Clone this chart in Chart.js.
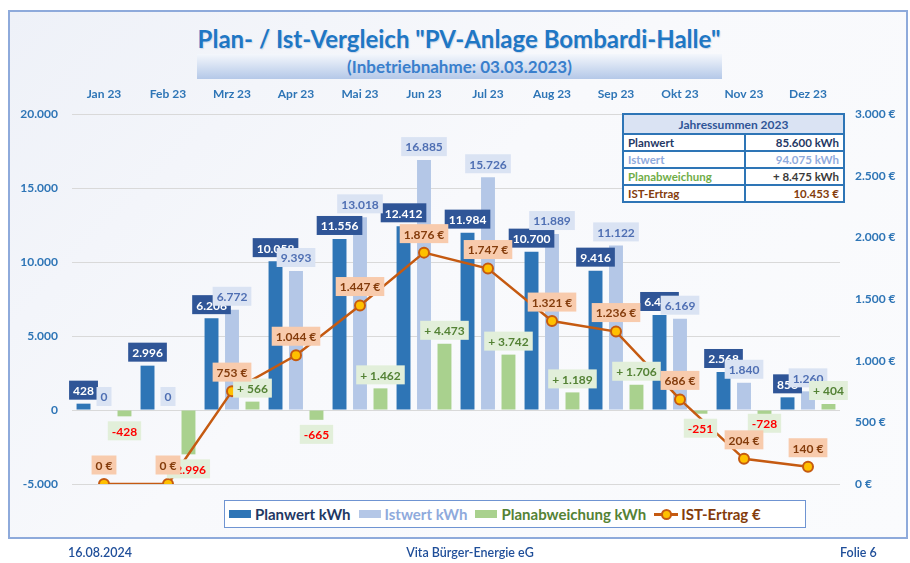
<!DOCTYPE html>
<html lang="de">
<head>
<meta charset="UTF-8">
<title>Plan- / Ist-Vergleich PV-Anlage Bombardi-Halle</title>
<script src="https://cdn.jsdelivr.net/npm/chart.js"></script>
<style>
  body { margin: 0; width: 910px; height: 563px; background: #fff; font-family: Lato, sans-serif; position: relative; overflow: hidden; }
  #frame { position: absolute; left: 8px; top: 10px; width: 896px; height: 525px; border: 2px solid #8eaadb; background: linear-gradient(135deg, #eef1f8 0%, #f8f9fc 45%, #fafbfd 100%); }
  #title { position: absolute; left: 0; width: 918px; top: 24px; text-align: center; font-weight: bold; font-size: 24px; color: #1f77c4; text-shadow: 1px 1px 1px #c9d6ea; }
  #subtitle { position: absolute; left: 197px; width: 525px; top: 54px; height: 25px; line-height: 25px; text-align: center; font-weight: bold; font-size: 17px; color: #3a7fcc; background: linear-gradient(#f4f7fc, #b4c8e8); }
  canvas { position: absolute; left: 0; top: 0; }
  #sum { position: absolute; left: 622px; top: 113px; width: 223px; border-collapse: collapse; font-size: 11.5px; font-weight: bold; background: #fff; }
  #sum td { border: 2px solid #2e75b6; height: 15px; padding: 0 4px; }
  #sum td.h { text-align: center; background: #dae3f3; color: #2f5597; height: 18px; font-size: 12px; }
  #sum td.v { text-align: right; }
  #legend { position: absolute; left: 224px; top: 500px; width: 580px; height: 26px; border: 1px solid #6f94d2; background: #fff; display: flex; align-items: center; font-size: 15px; font-weight: bold; white-space: nowrap; }
  .li { display: flex; align-items: center; margin-left: 4px; margin-right: 4px; }
  .mk { width: 22px; height: 8px; margin-right: 4px; }
  .ln { position: relative; width: 24px; height: 3px; background: #c55a11; margin-right: 3px; }
  .ln::after { content: ""; position: absolute; left: 7px; top: -4px; width: 7px; height: 7px; border-radius: 50%; background: #ffc000; border: 2px solid #c55a11; box-sizing: content-box; }
  .foot { position: absolute; top: 545px; font-size: 12.5px; font-weight: 600; color: #1f4e99; }
</style>
</head>
<body>
<div id="frame"></div>
<div id="title">Plan- / Ist-Vergleich "PV-Anlage Bombardi-Halle"</div>
<div id="subtitle">(Inbetriebnahme: 03.03.2023)</div>
<canvas id="pvChart" width="910" height="563"></canvas>
<table id="sum">
  <tr><td class="h" colspan="2">Jahressummen 2023</td></tr>
  <tr><td style="color:#1f3864">Planwert</td><td class="v" style="color:#1f3864">85.600 kWh</td></tr>
  <tr><td style="color:#8faadc">Istwert</td><td class="v" style="color:#8faadc">94.075 kWh</td></tr>
  <tr><td style="color:#70ad47">Planabweichung</td><td class="v" style="color:#3a3a3a">+ 8.475 kWh</td></tr>
  <tr><td style="color:#843c0c">IST-Ertrag</td><td class="v" style="color:#843c0c">10.453 €</td></tr>
</table>
<div id="legend">
  <div class="li"><div class="mk" style="background:#2e75b6"></div><span style="color:#1f3864">Planwert kWh</span></div>
  <div class="li"><div class="mk" style="background:#b4c7e7"></div><span style="color:#8faadc">Istwert kWh</span></div>
  <div class="li"><div class="mk" style="background:#a9d18e"></div><span style="color:#548235">Planabweichung kWh</span></div>
  <div class="li"><div class="ln"></div><span style="color:#843c0c">IST-Ertrag €</span></div>
</div>
<div class="foot" style="left:68px">16.08.2024</div>
<div class="foot" style="left:0;width:940px;text-align:center">Vita Bürger-Energie eG</div>
<div class="foot" style="left:840px">Folie 6</div>
<script>
  // monthly values 2023
  const months = ['Jan 23', 'Feb 23', 'Mrz 23', 'Apr 23', 'Mai 23', 'Jun 23', 'Jul 23', 'Aug 23', 'Sep 23', 'Okt 23', 'Nov 23', 'Dez 23'];
  const planKwh = [428, 2996, 6206, 10058, 11556, 12412, 11984, 10700, 9416, 6420, 2568, 856];
  const istKwh = [0, 0, 6772, 9393, 13018, 16885, 15726, 11889, 11122, 6169, 1840, 1260];
  const diffKwh = [-428, -2996, 566, -665, 1462, 4473, 3742, 1189, 1706, -251, -728, 404];
  const ertragEur = [0, 0, 753, 1044, 1447, 1876, 1747, 1321, 1236, 686, 204, 140];

  // German thousands separator
  function fmt(n) {
    const s = String(Math.abs(Math.round(n))).replace(/\B(?=(\d{3})+(?!\d))/g, '.');
    return (n < 0 ? '-' : '') + s;
  }

  // draws the boxed value labels like in Excel (dataset order = drawing order)
  const valueLabels = {
    id: 'valueLabels',
    afterDatasetsDraw(chart) {
      const ctx = chart.ctx;
      ctx.save();
      ctx.font = 'bold 12px Lato';
      ctx.textAlign = 'center';
      ctx.textBaseline = 'middle';
      chart.data.datasets.forEach((ds, di) => {
        const meta = chart.getDatasetMeta(di);
        meta.data.forEach((el, i) => {
          const v = ds.data[i];
          const st = ds.lbl(v);
          const h = 19;
          const w = ctx.measureText(st.text).width + 8;
          let cy;
          if (ds.type === 'line') cy = el.y - 19;
          else if (v < 0) cy = el.y + 5 + h / 2;
          else cy = el.y - 4 - h / 2;
          // the Nov deviation label was pulled up by hand in the original
          if (ds.label === 'Planabweichung kWh' && i === 10) cy -= 12;
          ctx.fillStyle = st.bg;
          ctx.fillRect(el.x - w / 2, cy - h / 2, w, h);
          ctx.fillStyle = st.color;
          ctx.fillText(st.text, el.x, cy + 1);
        });
      });
      ctx.restore();
    }
  };

  const tickFont = { family: 'Lato', size: 12, weight: 'bold' };

  new Chart(document.getElementById('pvChart'), {
    data: {
      labels: months,
      datasets: [
        {
          type: 'bar', label: 'Planwert kWh', data: planKwh, yAxisID: 'y', order: 1,
          backgroundColor: '#2e75b6',
          lbl: v => ({ text: fmt(v), bg: '#2f5597', color: '#ffffff' })
        },
        {
          type: 'bar', label: 'Istwert kWh', data: istKwh, yAxisID: 'y', order: 1,
          backgroundColor: '#b4c7e7',
          lbl: v => ({ text: fmt(v), bg: '#dae3f3', color: '#4f6fb3' })
        },
        {
          type: 'bar', label: 'Planabweichung kWh', data: diffKwh, yAxisID: 'y', order: 1,
          backgroundColor: '#a9d18e',
          lbl: v => ({ text: v > 0 ? '+ ' + fmt(v) : fmt(v), bg: '#e2efda', color: v < 0 ? '#ff0000' : '#548235' })
        },
        {
          type: 'line', label: 'IST-Ertrag €', data: ertragEur, yAxisID: 'yEur', order: 0,
          borderColor: '#c55a11', borderWidth: 2.5, pointRadius: 5, pointBorderWidth: 2,
          pointBackgroundColor: '#ffc000', pointBorderColor: '#c55a11',
          lbl: v => ({ text: fmt(v) + ' €', bg: '#f8cbad', color: '#843c0c' })
        }
      ]
    },
    options: {
      responsive: false,
      animation: false,
      layout: { padding: { bottom: 79 } },
      datasets: { bar: { categoryPercentage: 0.96, barPercentage: 0.68 } },
      plugins: { legend: { display: false }, tooltip: { enabled: false } },
      scales: {
        x: {
          position: 'top',
          grid: { display: false },
          border: { display: false },
          ticks: { color: '#2e75b6', font: tickFont, padding: 5 },
          afterFit: s => { s.height = 114; }
        },
        y: {
          position: 'left', min: -5000, max: 20000,
          grid: { color: '#d9d9d9', drawTicks: false },
          border: { display: false },
          ticks: { stepSize: 5000, color: '#2e75b6', font: tickFont, padding: 14, callback: v => fmt(v) },
          afterFit: s => { s.width = 72; }
        },
        yEur: {
          position: 'right', min: 0, max: 3000,
          grid: { display: false, drawTicks: false },
          border: { display: false },
          ticks: { stepSize: 500, color: '#2e75b6', font: tickFont, padding: 15, callback: v => fmt(v) + ' €' },
          afterFit: s => { s.width = 70; }
        }
      }
    },
    plugins: [valueLabels]
  });
</script>
</body>
</html>
